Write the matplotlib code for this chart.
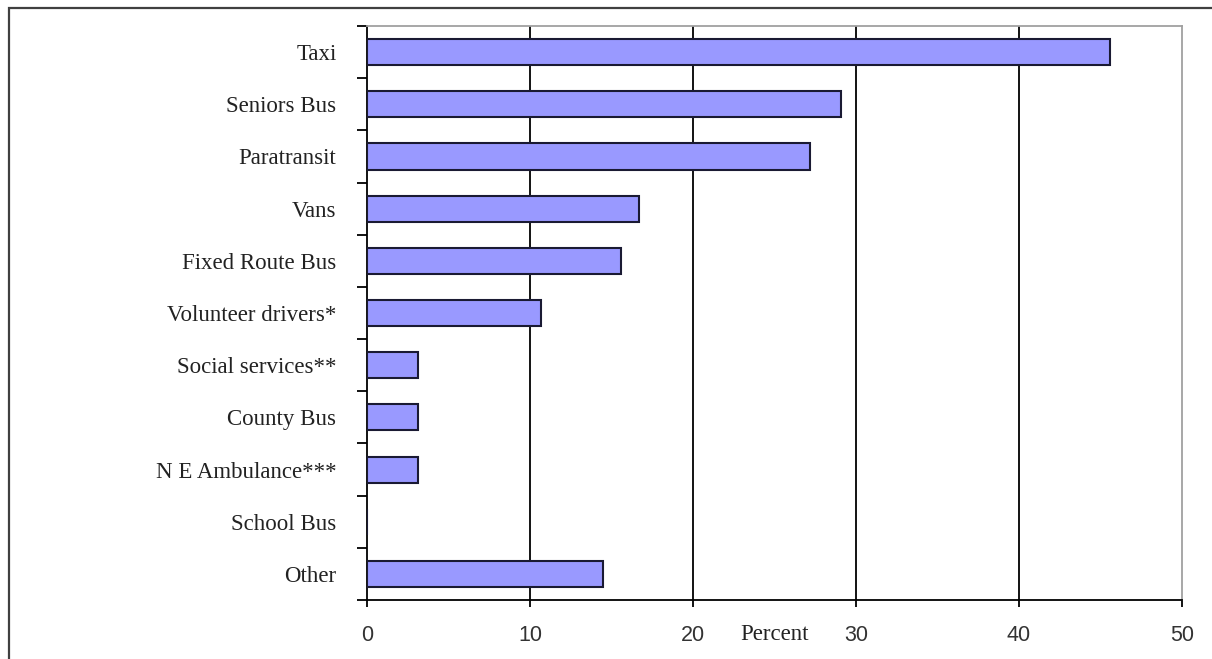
import matplotlib.pyplot as plt
import numpy as np
from matplotlib.patches import Rectangle
from matplotlib.ticker import FixedLocator

categories = [
    "Taxi",
    "Seniors Bus",
    "Paratransit",
    "Vans",
    "Fixed Route Bus",
    "Volunteer drivers*",
    "Social services**",
    "County Bus",
    "N E Ambulance***",
    "School Bus",
    "Other",
]
percent = [45.6, 29.1, 27.2, 16.7, 15.6, 10.7, 3.1, 3.1, 3.1, 0.0, 14.5]
x_ticks = [0, 10, 20, 30, 40, 50]

fig = plt.figure(figsize=(12.12, 6.59), dpi=100)
ax = fig.add_axes([367 / 1212, 1 - 600 / 659, (1182 - 367) / 1212, (600 - 26) / 659])

y = np.arange(len(categories))
ax.barh(y, percent, height=0.5, color="#9999ff", edgecolor="#1a1a33",
        linewidth=1.5, zorder=3)

ax.set_xlim(0, 50)
ax.set_ylim(len(categories) - 0.5, -0.5)
ax.set_xticks(x_ticks)
ax.set_xticklabels([str(v) for v in x_ticks], family="Liberation Sans",
                   fontsize=15.5, color="#333333")
ax.set_yticks(y)
ax.set_yticklabels(categories, family="Liberation Serif", fontsize=16.5,
                   color="#222222")
ax.yaxis.set_minor_locator(FixedLocator(np.arange(-0.5, len(categories), 1)))

ax.tick_params(axis="y", which="major", length=0, pad=22)
ax.tick_params(axis="y", which="minor", length=7, width=1.3, direction="out")
ax.tick_params(axis="x", which="major", length=5, width=1.3, direction="out",
               pad=13)

for v in x_ticks[1:-1]:
    ax.axvline(v, color="black", linewidth=1.3, zorder=2)

for side in ("left", "bottom"):
    ax.spines[side].set_color("black")
    ax.spines[side].set_linewidth(1.3)
for side in ("top", "right"):
    ax.spines[side].set_color("#a0a0a0")
    ax.spines[side].set_linewidth(1.3)

ax.set_xlabel("Percent", family="Liberation Serif", fontsize=16.5, color="#222222")
ax.xaxis.set_label_coords(0.5, -35 / 574, transform=ax.transAxes)
ax.xaxis.label.set_va("center")

frame = Rectangle((9 / 1212, -0.1), 1.2, 0.1 + 1 - 8 / 659,
                  transform=fig.transFigure, fill=False,
                  edgecolor="#404040", linewidth=1.6, clip_on=False)
fig.patches.append(frame)

fig.savefig("out.png", dpi=100)
